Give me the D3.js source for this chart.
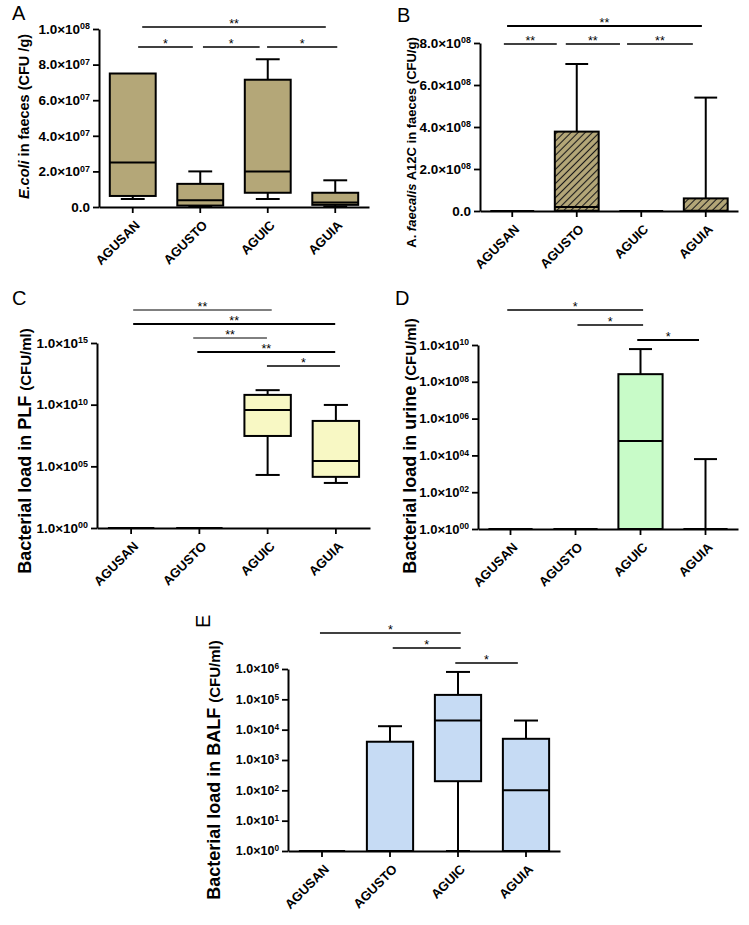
<!DOCTYPE html>
<html>
<head>
<meta charset="utf-8">
<script src="https://cdn.jsdelivr.net/npm/d3@7"></script>
<style>
  body { margin: 0; background: #fff; }
  svg { display: block; font-family: "Liberation Sans", Arial, sans-serif; }
</style>
</head>
<body>
<svg id="chart" width="749" height="925"></svg>
<script>
const categories = ["AGUSAN", "AGUSTO", "AGUIC", "AGUIA"];

// box stats per group: min, q1, median, q3, max
const ecoliStats = [
    [4.5e6, 6.2e6, 2.5e7, 7.5e7, 7.5e7],
    [2e5, 8e5, 3.8e6, 1.3e7, 2.0e7],
    [4.5e6, 8e6, 2.0e7, 7.15e7, 8.3e7],
    [3e5, 1.2e6, 2.5e6, 8e6, 1.5e7]
];
const faecalisStats = [
    [0, 0, 0, 0, 0],
    [0, 1e6, 1.9e7, 3.78e8, 7.0e8],
    [0, 0, 0, 0, 0],
    [0, 0, 1e6, 6e7, 5.4e8]
];
const plfStats = [
    [1, 1, 1, 1, 1],
    [1, 1, 1, 1, 1],
    [2.0e4, 2.9e7, 3.7e9, 6.2e10, 1.5e11],
    [4.5e3, 1.4e4, 2.7e5, 4.8e8, 9.5e9]
];
const urineStats = [
    [1, 1, 1, 1, 1],
    [1, 1, 1, 1, 1],
    [1, 1, 6.0e4, 2.6e8, 6.0e9],
    [1, 1, 1, 1, 6.3e3]
];
const balfStats = [
    [1, 1, 1, 1, 1],
    [1, 1, 1, 4.0e3, 1.3e4],
    [1, 2.0e2, 2.0e4, 1.4e5, 8.0e5],
    [1, 1, 1.0e2, 5.0e3, 2.0e4]
];

const ecoliTicks = [0, 2e7, 4e7, 6e7, 8e7, 1e8];
const faecalisTicks = [0, 2e8, 4e8, 6e8, 8e8];
const plfTicks = [1, 1e5, 1e10, 1e15];
const urineTicks = [1, 1e2, 1e4, 1e6, 1e8, 1e10];
const balfTicks = [1, 1e1, 1e2, 1e3, 1e4, 1e5, 1e6];

// significance bars: from group, to group (fractional index), stack level, stars
const ecoliSig = [
    [0.08, 0.89, 0, "*"], [1.04, 1.88, 0, "*"], [1.99, 3.03, 0, "*"], [0.14, 2.86, 1, "**"]
];
const faecalisSig = [
    [-0.13, 0.69, 0, "**"], [0.83, 1.67, 0, "**"], [1.78, 2.8, 0, "**"], [-0.08, 2.94, 1, "**"]
];
const plfSig = [
    [1.99, 3.06, 0, "*"], [0.97, 2.99, 1, "**"], [0.91, 1.99, 2, "**"], [0.03, 2.99, 3, "**"], [0.03, 2.06, 4, "**"]
];
const urineSig = [
    [1.95, 2.9, 0, "*"], [1.03, 2.04, 1, "*"], [-0.05, 2.04, 2, "*"]
];
const balfSig = [
    [1.96, 2.88, 0, "*"], [1.04, 2.04, 1, "*"], [-0.03, 2.04, 2, "*"]
];

const khaki = "#b4a778";

const panels = [
    {
        letter: "A", letterPos: [12, 20], stats: ecoliStats, ticks: ecoliTicks, sig: ecoliSig,
        log: false, domain: [0, 1e8], xr: [99, 369], yr: [207, 29], fill: khaki, pad: true,
        tickFont: 13.5, sigBase: 47, sigStep: 20, sigWidths: [1.5, 1.5, 1.5, 1.5],
        titlePos: [29, 116.5],
        title: [["E.coli", 14.5, true], [" in faeces (CFU /g)", 14.5, false]]
    },
    {
        letter: "B", letterPos: [397, 22], stats: faecalisStats, ticks: faecalisTicks, sig: faecalisSig,
        log: false, domain: [0, 8e8], xr: [480, 738], yr: [211, 43], fill: "url(#hatch)", pad: true,
        tickFont: 13.5, sigBase: 44, sigStep: 18, sigWidths: [1.5, 1.5, 1.5, 1.8],
        titlePos: [416, 142.5],
        title: [["A. ", 13, false], ["faecalis", 13, true], [" A12C in faeces (CFU/g)", 13, false]]
    },
    {
        letter: "C", letterPos: [12, 305], stats: plfStats, ticks: plfTicks, sig: plfSig,
        log: true, domain: [1, 1e15], xr: [97, 370], yr: [528, 343], fill: "#f8f8c4", pad: true,
        tickFont: 13.5, sigBase: 366, sigStep: 14, sigWidths: [1.6, 2.2, 1, 2, 1],
        titlePos: [31, 451],
        title: [["Bacterial load in PLF ", 18, false], ["(CFU/ml)", 15, false]]
    },
    {
        letter: "D", letterPos: [395, 305], stats: urineStats, ticks: urineTicks, sig: urineSig,
        log: true, domain: [1, 1e10], xr: [478, 738], yr: [529, 345], fill: "#c8fbc8", pad: true,
        tickFont: 13, sigBase: 340, sigStep: 15, sigWidths: [2, 1.3, 1.3],
        titlePos: [416, 446],
        title: [["Bacterial load in urine ", 18, false], ["(CFU/ml)", 15, false]]
    },
    {
        letter: "E", letterPos: [210, 628], letterRotate: true, stats: balfStats, ticks: balfTicks, sig: balfSig,
        log: true, domain: [1, 1e6], xr: [288, 560], yr: [851, 669], fill: "#c6dbf4", pad: false,
        tickFont: 12.5, sigBase: 663, sigStep: 15, sigWidths: [1.5, 1.5, 1.5],
        titlePos: [220, 770],
        title: [["Bacterial load in BALF ", 18, false], ["(CFU/ml)", 15, false]]
    }
];

const svg = d3.select("#chart");

const defs = svg.append("defs");
const hatch = defs.append("pattern")
    .attr("id", "hatch")
    .attr("patternUnits", "userSpaceOnUse")
    .attr("width", 5)
    .attr("height", 5)
    .attr("patternTransform", "rotate(45)");
hatch.append("rect").attr("width", 5).attr("height", 5).attr("fill", khaki);
hatch.append("line")
    .attr("x1", 2.5).attr("y1", 0).attr("x2", 2.5).attr("y2", 5)
    .attr("stroke", "#1a1a1a").attr("stroke-width", 1.1);

panels.forEach(drawPanel);

function drawPanel(p) {
    const g = svg.append("g");

    const x = d3.scaleBand()
        .domain(categories)
        .range(p.xr)
        .paddingInner(0.32)
        .paddingOuter(0.16);
    const bw = x.bandwidth();

    const y = (p.log ? d3.scaleLog() : d3.scaleLinear())
        .domain(p.domain)
        .range(p.yr);

    // fractional group index -> pixel, for significance bars
    const pos = d3.scaleLinear()
        .domain([0, categories.length - 1])
        .range([x(categories[0]) + bw / 2, x(categories[categories.length - 1]) + bw / 2]);

    // y axis, labels as mantissa x 10^exp with a raised exponent
    const yAxis = g.append("g")
        .attr("transform", "translate(" + p.xr[0] + ",0)")
        .call(d3.axisLeft(y).tickValues(p.ticks).tickSize(6).tickSizeOuter(0).tickFormat(() => ""));
    yAxis.select(".domain").attr("stroke-width", 2);
    yAxis.selectAll(".tick line").attr("stroke-width", 1.8);
    yAxis.selectAll(".tick text").remove();

    const yLabels = g.append("g")
        .selectAll("text")
        .data(p.ticks)
        .enter()
        .append("text")
        .attr("x", p.xr[0] - 9)
        .attr("y", d => y(d))
        .attr("dy", "0.35em")
        .attr("text-anchor", "end")
        .style("font-weight", "bold")
        .style("font-size", p.tickFont + "px");
    yLabels.each(function(d) {
        const t = d3.select(this);
        if (d === 0) {
            t.text("0.0");
            return;
        }
        const e = Math.floor(Math.log10(d) + 1e-9);
        const m = d / Math.pow(10, e);
        t.append("tspan").text(m.toFixed(1) + "×10");
        t.append("tspan")
            .style("font-size", (p.tickFont * 0.66) + "px")
            .attr("dy", "-0.5em")
            .text(p.pad ? String(e).padStart(2, "0") : String(e));
    });

    // boxes
    const boxes = g.append("g")
        .selectAll("g")
        .data(p.stats)
        .enter()
        .append("g");

    boxes.each(function(s, i) {
        const b = d3.select(this);
        const cx = x(categories[i]) + bw / 2;
        const cap = bw * 0.52;
        const [mn, q1, md, q3, mx] = s;
        if (mx > q3) {
            b.append("line").attr("x1", cx).attr("x2", cx).attr("y1", y(q3)).attr("y2", y(mx))
                .attr("stroke", "#000").attr("stroke-width", 2);
            b.append("line").attr("x1", cx - cap / 2).attr("x2", cx + cap / 2).attr("y1", y(mx)).attr("y2", y(mx))
                .attr("stroke", "#000").attr("stroke-width", 2);
        }
        if (mn < q1) {
            b.append("line").attr("x1", cx).attr("x2", cx).attr("y1", y(q1)).attr("y2", y(mn))
                .attr("stroke", "#000").attr("stroke-width", 2);
            b.append("line").attr("x1", cx - cap / 2).attr("x2", cx + cap / 2).attr("y1", y(mn)).attr("y2", y(mn))
                .attr("stroke", "#000").attr("stroke-width", 2);
        }
        b.append("rect")
            .attr("x", cx - bw / 2)
            .attr("width", bw)
            .attr("y", y(q3))
            .attr("height", y(q1) - y(q3))
            .attr("fill", p.fill)
            .attr("stroke", "#000")
            .attr("stroke-width", 2);
        b.append("line").attr("x1", cx - bw / 2).attr("x2", cx + bw / 2).attr("y1", y(md)).attr("y2", y(md))
            .attr("stroke", "#000").attr("stroke-width", 2);
    });

    // x axis, rotated category labels
    const xAxis = g.append("g")
        .attr("transform", "translate(0," + p.yr[0] + ")")
        .call(d3.axisBottom(x).tickSize(6).tickSizeOuter(0).tickFormat(() => ""));
    xAxis.select(".domain").attr("stroke-width", 2);
    xAxis.selectAll(".tick line").attr("stroke-width", 1.8);
    xAxis.selectAll(".tick text").remove();

    g.append("g")
        .selectAll("text")
        .data(categories)
        .enter()
        .append("text")
        .attr("transform", d => "translate(" + (x(d) + bw / 2 + 8) + "," + (p.yr[0] + 19) + ") rotate(-45)")
        .attr("text-anchor", "end")
        .style("font-weight", "bold")
        .style("font-size", "13px")
        .text(d => d);

    // significance bars
    const sig = g.append("g")
        .selectAll("g")
        .data(p.sig)
        .enter()
        .append("g");
    sig.append("line")
        .attr("x1", d => pos(d[0]))
        .attr("x2", d => pos(d[1]))
        .attr("y1", d => p.sigBase - d[2] * p.sigStep)
        .attr("y2", d => p.sigBase - d[2] * p.sigStep)
        .attr("stroke", "#000")
        .attr("stroke-width", (d, i) => p.sigWidths[i]);
    sig.append("text")
        .attr("x", d => (pos(d[0]) + pos(d[1])) / 2)
        .attr("y", d => p.sigBase - d[2] * p.sigStep + 1)
        .attr("text-anchor", "middle")
        .style("font-size", "12.5px")
        .text(d => d[3]);

    // axis title
    const title = g.append("text")
        .attr("transform", "translate(" + p.titlePos[0] + "," + p.titlePos[1] + ") rotate(-90)")
        .attr("text-anchor", "middle")
        .style("font-weight", "bold");
    p.title.forEach(function(part) {
        title.append("tspan")
            .style("font-size", part[1] + "px")
            .style("font-style", part[2] ? "italic" : null)
            .text(part[0]);
    });

    // panel letter
    g.append("text")
        .attr("transform", "translate(" + p.letterPos[0] + "," + p.letterPos[1] + ")" + (p.letterRotate ? " rotate(-90)" : ""))
        .style("font-size", "20px")
        .text(p.letter);
}
</script>
</body>
</html>
